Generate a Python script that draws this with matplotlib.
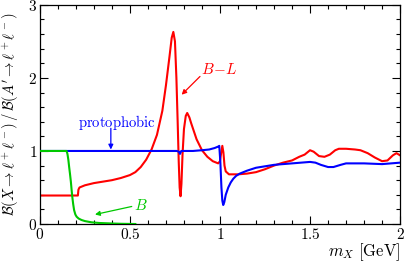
import matplotlib
matplotlib.use("Agg")
import matplotlib.pyplot as plt
from matplotlib.ticker import MultipleLocator, FixedLocator

plt.rcParams['font.family'] = 'serif'
plt.rcParams['mathtext.fontset'] = 'cm'

# B-L curve
bl_x = [0.0, 0.211, 0.214, 0.22, 0.25, 0.3, 0.35, 0.4, 0.45, 0.5, 0.53, 0.56, 0.59, 0.62,
        0.65, 0.68, 0.70, 0.72, 0.732, 0.741, 0.75, 0.758, 0.765, 0.771, 0.776, 0.781,
        0.786, 0.792, 0.80, 0.81, 0.818, 0.83, 0.84, 0.87, 0.90, 0.93, 0.96, 0.99, 1.0,
        1.007, 1.013, 1.019, 1.025, 1.032, 1.05, 1.1, 1.15, 1.2, 1.25, 1.3, 1.35, 1.4,
        1.44, 1.47, 1.49, 1.50, 1.52, 1.55, 1.58, 1.61, 1.64, 1.66, 1.7, 1.75, 1.78,
        1.82, 1.86, 1.9, 1.93, 1.96, 1.98, 2.0]
bl_y = [0.39, 0.39, 0.47, 0.50, 0.53, 0.56, 0.58, 0.60, 0.63, 0.67, 0.71, 0.78, 0.88, 1.02,
        1.22, 1.55, 1.90, 2.30, 2.55, 2.63, 2.50, 2.00, 1.40, 0.85, 0.50, 0.38,
        0.55, 0.95, 1.30, 1.48, 1.52, 1.46, 1.38, 1.16, 1.01, 0.92, 0.86, 0.83, 0.86,
        0.98, 1.07, 0.98, 0.80, 0.72, 0.68, 0.68, 0.69, 0.71, 0.75, 0.80, 0.84, 0.87,
        0.92, 0.95, 0.99, 1.01, 0.99, 0.93, 0.92, 0.95, 1.01, 1.03, 1.03, 1.02, 1.01,
        0.97, 0.91, 0.86, 0.87, 0.94, 0.97, 0.94]

# protophobic curve
pp_x = [0.0, 0.76, 0.772, 0.778, 0.785, 0.80, 0.85, 0.9, 0.94, 0.97, 0.99, 0.996,
        1.002, 1.008, 1.013, 1.018, 1.024, 1.032, 1.046, 1.06, 1.074, 1.09, 1.11,
        1.15, 1.2, 1.25, 1.3, 1.35, 1.4, 1.45, 1.5, 1.53, 1.56, 1.6, 1.63, 1.67,
        1.7, 1.8, 1.9, 2.0]
pp_y = [1.0, 1.0, 0.99, 0.96, 1.0, 1.0, 1.0, 1.01, 1.02, 1.04, 1.06, 1.07,
        0.85, 0.50, 0.32, 0.26, 0.30, 0.40, 0.50, 0.57, 0.62, 0.66, 0.69,
        0.73, 0.77, 0.79, 0.81, 0.82, 0.83, 0.84, 0.85, 0.84, 0.81, 0.78, 0.78, 0.81,
        0.83, 0.83, 0.82, 0.84]

# B curve
b_x = [0.0, 0.148, 0.153, 0.158, 0.163, 0.167, 0.172, 0.176, 0.18, 0.185, 0.19,
       0.197, 0.204, 0.215, 0.231, 0.25, 0.287, 0.33, 0.4, 0.45, 0.53]
b_y = [1.0, 1.0, 0.96, 0.88, 0.77, 0.69, 0.58, 0.47, 0.37, 0.27, 0.19,
       0.13, 0.10, 0.075, 0.055, 0.04, 0.023, 0.014, 0.007, 0.003, 0.0]

xticks = [0, 0.5, 1, 1.5, 2]
xticklabels = ['0', '0.5', '1', '1.5', '2']
yticks = [0, 1, 2, 3]
yticklabels = ['0', '1', '2', '3']

fig = plt.figure(figsize=(4.07, 2.64), dpi=100)
ax = fig.add_axes([0.098, 0.1515, 0.885, 0.83])

red = '#ff0000'
blue = '#0000ff'
green = '#00c800'

ax.plot(pp_x, pp_y, color=blue, lw=1.5, zorder=3)
ax.plot(bl_x, bl_y, color=red, lw=1.5, zorder=2)
ax.plot(b_x, b_y, color=green, lw=1.5, zorder=4)

ax.set_xlim(0, 2)
ax.set_ylim(0, 3)
ax.set_xticks(xticks)
ax.set_xticklabels(['$%s$' % t for t in xticklabels], fontsize=11)
ax.set_yticks(yticks)
ax.set_yticklabels(['$%s$' % t for t in yticklabels], fontsize=11)
ax.xaxis.set_minor_locator(MultipleLocator(0.1))
ax.yaxis.set_minor_locator(MultipleLocator(0.2))
ax.tick_params(which='both', direction='in', top=True, right=True, pad=2)
ax.tick_params(which='major', length=6, width=0.8)
ax.tick_params(which='minor', length=3, width=0.8)
for s in ax.spines.values():
    s.set_linewidth(0.9)

ax.set_ylabel(r"$\mathcal{B}(X\to\ell^+\ell^-)\,/\,\mathcal{B}(A'\to\ell^+\ell^-)$", fontsize=10.5)
ax.yaxis.set_label_coords(-0.055, 0.5)
ax.set_xlabel(r"$m_X\ [\mathrm{GeV}]$", fontsize=12, labelpad=1)
ax.xaxis.set_label_coords(1.0, -0.08)
ax.xaxis.label.set_horizontalalignment('right')

ap = dict(arrowstyle='-|>', lw=0.9, mutation_scale=7, shrinkA=0, shrinkB=0)
ax.text(0.43, 1.39, r'$\mathrm{protophobic}$', color=blue, fontsize=10.5, ha='center', va='center')
ax.annotate('', xy=(0.394, 1.02), xytext=(0.394, 1.31), arrowprops=dict(ap, color=blue))
ax.text(0.995, 2.11, r'$B\!-\!L$', color=red, fontsize=11, ha='center', va='center')
ax.annotate('', xy=(0.787, 1.77), xytext=(0.889, 2.02), arrowprops=dict(ap, color=red))
ax.text(0.56, 0.255, r'$B$', color=green, fontsize=11, ha='center', va='center')
ax.annotate('', xy=(0.306, 0.13), xytext=(0.51, 0.24), arrowprops=dict(ap, color=green))

fig.savefig('out.png', dpi=100)
